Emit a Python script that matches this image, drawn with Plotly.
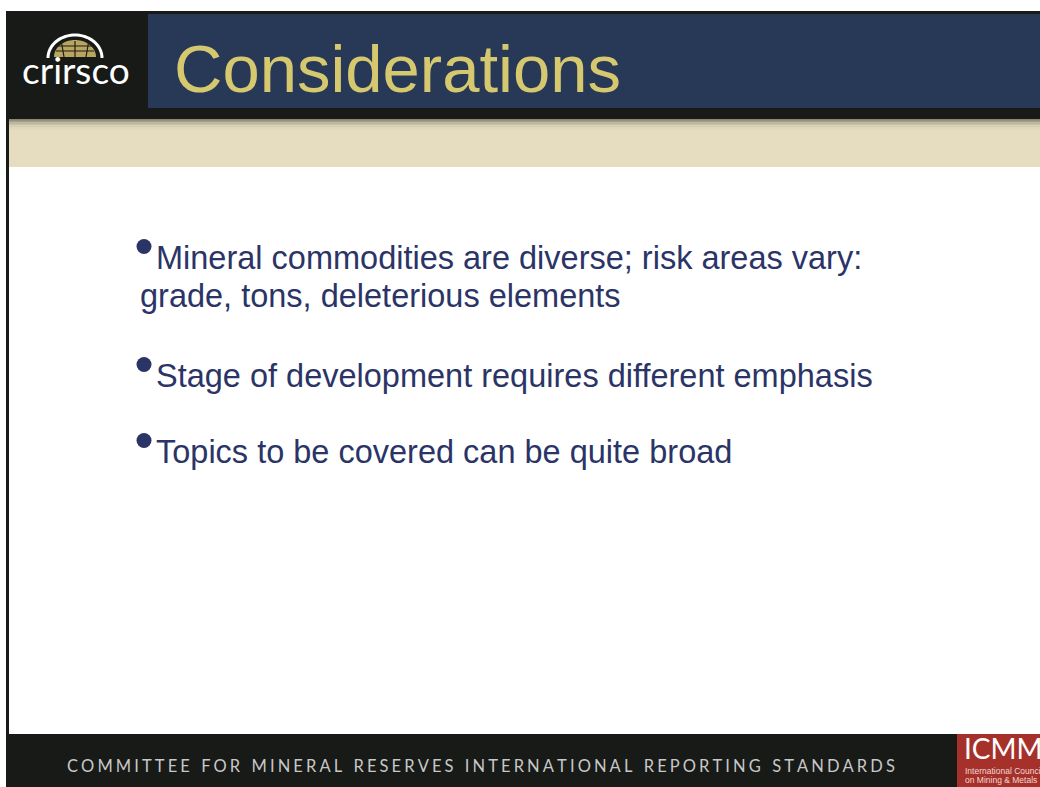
import plotly.graph_objects as go
import math

# ---- content ----
title_text = "Considerations"
bullet_lines = [
    "Mineral commodities are diverse; risk areas vary:",
    "grade, tons, deleterious elements",
    "Stage of development requires different emphasis",
    "Topics to be covered can be quite broad",
]
bullet_has_dot = [True, False, True, True]
bullet_line_y = [258, 296, 376, 452]
footer_text = "COMMITTEE FOR MINERAL RESERVES INTERNATIONAL REPORTING STANDARDS"
logo_text = "crirsco"
icmm_text = "ICMM"
icmm_sub = ["International Council", "on Mining & Metals"]

W, H = 1040, 787
BLACK = "#171a17"
BLUE = "#283857"
GOLD = "#d6c86f"
BEIGE = "#e6dcc0"
NAVY = "#2b3466"
RED = "#a6312b"

fig = go.Figure()
fig.add_trace(go.Scatter(x=[0, W], y=[0, H], mode="markers",
                         marker=dict(opacity=0), hoverinfo="skip", showlegend=False))

shapes = []
def rect(x0, y0, x1, y1, color):
    shapes.append(dict(type="rect", x0=x0, y0=y0, x1=x1, y1=y1,
                       fillcolor=color, line=dict(width=0), layer="below"))

# header
rect(6, 11, W, 119, BLACK)
rect(148, 14, W, 108, BLUE)
# gradient below header
grad = ["#8b8672", "#a39d86", "#b8b199", "#c9c1a8", "#d6ceb3", "#dfd6ba", "#e3dabe"]
for i, c in enumerate(grad):
    rect(9, 119 + i * 1.6, W, 119 + (i + 1) * 1.6 + 0.3, c)
rect(9, 130, W, 167, BEIGE)
# left border line
rect(6, 11, 9, 787, BLACK)
# footer
rect(6, 734, W, H, BLACK)
rect(957, 734, W, H, RED)

# bullets (dots)
for has, y in zip(bullet_has_dot, bullet_line_y):
    if has:
        shapes.append(dict(type="circle", x0=136.5, y0=y - 19, x1=151.5, y1=y - 4,
                           fillcolor=NAVY, line=dict(width=0)))

# crirsco dome logo
def arc_path(cx, cy, rx, ry, n=40, close=False):
    pts = []
    for k in range(n + 1):
        t = math.pi * k / n
        pts.append((cx - rx * math.cos(t), cy - ry * math.sin(t)))
    d = "M " + " L ".join(f"{x:.2f},{y:.2f}" for x, y in pts)
    if close:
        d += " Z"
    return d

shapes.append(dict(type="path", path=arc_path(75, 57, 21, 17, close=True),
                   fillcolor="#b9a460", line=dict(width=0)))
for gx in [64, 75, 86]:
    shapes.append(dict(type="line", x0=gx, y0=57, x1=gx + (gx - 75) * 0.25, y1=41,
                       line=dict(color="#1d1d18", width=1.2)))
for gy in [46, 51]:
    shapes.append(dict(type="line", x0=56, y0=gy, x1=94, y1=gy,
                       line=dict(color="#1d1d18", width=1.2)))
shapes.append(dict(type="path", path=arc_path(75, 58, 27, 23),
                   line=dict(color="white", width=3)))

annotations = []
annotations.append(dict(x=172, y=68.5, text=title_text, showarrow=False,
                        xanchor="left", yanchor="middle",
                        font=dict(family="Liberation Sans, Arial", size=67, color=GOLD)))
annotations.append(dict(x=76, y=69.5, text=logo_text, showarrow=False,
                        xanchor="center", yanchor="middle",
                        font=dict(family="Lato, Liberation Sans", size=37, color="white")))

for txt, has, y in zip(bullet_lines, bullet_has_dot, bullet_line_y):
    annotations.append(dict(x=154 if has else 138, y=y, text=txt, showarrow=False,
                            xanchor="left", yanchor="middle",
                            font=dict(family="Liberation Sans, Arial", size=32.5, color=NAVY)))

gap = "\u2009\u200a"
spaced = gap.join(list(footer_text)).replace(gap + " " + gap, "\u2002" + gap)
annotations.append(dict(x=65, y=766, text=spaced, showarrow=False,
                        xanchor="left", yanchor="middle",
                        font=dict(family="Lato, Liberation Sans", size=16.5, color="#c8c8c8")))

annotations.append(dict(x=962, y=748, text=icmm_text, showarrow=False,
                        xanchor="left", yanchor="middle",
                        font=dict(family="Lato, Liberation Sans", size=28, color="white")))
for i, s in enumerate(icmm_sub):
    annotations.append(dict(x=963, y=770.5 + i * 9, text=s, showarrow=False,
                            xanchor="left", yanchor="middle",
                            font=dict(family="Liberation Sans", size=8.5, color="#f0d8d4")))

fig.update_layout(
    width=W, height=H,
    margin=dict(l=0, r=0, t=0, b=0),
    paper_bgcolor="white", plot_bgcolor="white",
    xaxis=dict(range=[0, W], visible=False, fixedrange=True),
    yaxis=dict(range=[H, 0], visible=False, fixedrange=True),
    shapes=shapes, annotations=annotations,
    showlegend=False,
)
fig.write_html("out.html", config={"displayModeBar": False},
               post_script="document.body.style.margin='0';document.body.style.overflow='hidden';")
